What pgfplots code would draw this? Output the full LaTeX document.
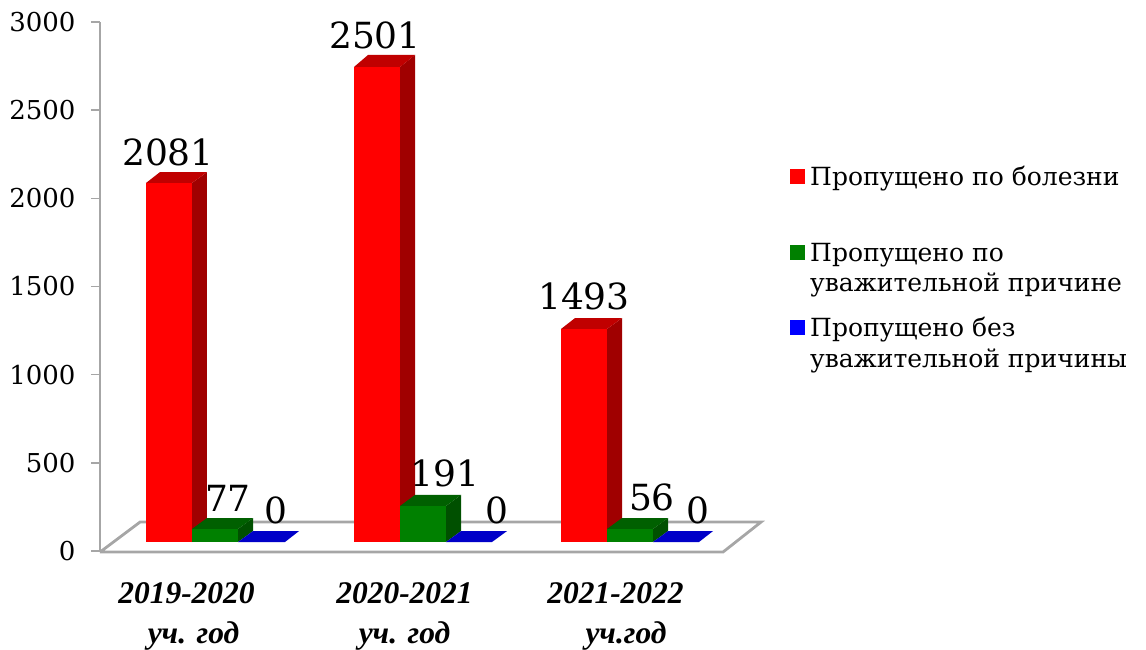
\documentclass[border=0pt]{standalone}
\usepackage{pgfplots}
\usepackage{pgfplotstable}
\usepackage{fontspec}
\pgfplotsset{compat=1.18}
\setmainfont{DejaVu Serif}
\newfontfamily\catfont{Liberation Serif}
\definecolor{axgray}{HTML}{A6A6A6}
\definecolor{rf}{HTML}{FF0000}
\definecolor{rt}{HTML}{C00000}
\definecolor{rs}{HTML}{A00000}
\definecolor{gf}{HTML}{008000}
\definecolor{gt}{HTML}{006000}
\definecolor{gs}{HTML}{005000}
\definecolor{bt}{HTML}{0000C8}
\definecolor{bl}{HTML}{0000FF}
\newcommand{\face}[2]{\addplot[fill=#1,draw=none,forget plot] coordinates {#2} --cycle;}
\pgfplotstableread[col sep=space]{
x y l
168 2263 2081
375 2926 2501
584 1446 1493
228 301 77
445 442 191
652 306 56
276 233 0
497 233 0
698 233 0
}\labels
\begin{document}
\begin{tikzpicture}[x=1pt,y=1pt]
\useasboundingbox (-100,-98) rectangle (1046,551);
\begin{axis}[
  scale only axis, width=1046pt, height=529pt, anchor=origin,
  at={(0,0)},
  xmin=100, xmax=1146, ymin=0, ymax=3000, clip=false,
  axis y line=left, axis x line*=bottom,
  x axis line style={draw=none},
  y axis line style={draw=axgray,line width=2.6pt,-},
  ytick={0,500,1000,1500,2000,2500,3000},
  yticklabel style={font=\fontsize{26}{26}\selectfont,/pgf/number format/assume math mode=true,/pgf/number format/1000 sep={},xshift=-12pt},
  y tick style={draw=axgray,line width=1.5pt},
  major tick length=9pt,
  tick align=outside,
  xtick={186.5,404.5,615.5},
  x tick style={draw=none},
  xticklabels={{2019-2020\\\hspace*{14pt}уч. год},{2020-2021\\уч. год},{2021-2022\\\hspace*{21pt}уч.год}},
  xticklabel style={align=center,font=\fontsize{31.5}{40}\catfont\bfseries\itshape\selectfont,yshift=-19pt},
]
% floor
\addplot[draw=axgray,line width=2.8pt,forget plot] coordinates {(100,-6) (723,-6) (761,164) (140,164) (100,-6)};
% first group
\face{rs}{(192,51) (207,113) (207,2149) (192,2087)}
\face{rt}{(146,2087) (160,2149) (207,2149) (192,2087)}
\face{rf}{(146,51) (192,51) (192,2087) (146,2087)}
\face{gs}{(238,51) (253,113) (253,187) (238,125)}
\face{gt}{(192,125) (207,187) (253,187) (238,125)}
\face{gf}{(192,51) (238,51) (238,125) (192,125)}
\face{bt}{(238,51) (285,51) (299,113) (253,113)}
% second group
\face{rs}{(400,51) (415,113) (415,2813) (400,2745)}
\face{rt}{(354,2745) (368,2813) (415,2813) (400,2745)}
\face{rf}{(354,51) (400,51) (400,2745) (354,2745)}
\face{gs}{(446,51) (461,113) (461,318) (446,255)}
\face{gt}{(400,255) (415,318) (461,318) (446,255)}
\face{gf}{(400,51) (446,51) (446,255) (400,255)}
\face{bt}{(446,51) (492,51) (507,113) (461,113)}
% third group
\face{rs}{(607,51) (622,113) (622,1321) (607,1259)}
\face{rt}{(561,1259) (575,1321) (622,1321) (607,1259)}
\face{rf}{(561,51) (607,51) (607,1259) (561,1259)}
\face{gs}{(653,51) (668,113) (668,187) (653,125)}
\face{gt}{(607,125) (622,187) (668,187) (653,125)}
\face{gf}{(607,51) (653,51) (653,125) (607,125)}
\face{bt}{(653,51) (699,51) (713,113) (668,113)}
% data labels
\addplot[draw=none,forget plot,nodes near coords,point meta=explicit symbolic,
  every node near coord/.append style={anchor=center,inner sep=0pt,font=\fontsize{36}{36}\selectfont}]
  table[x=x,y=y,meta=l] {\labels};
% legend
\addplot[only marks,mark=square*,mark size=7pt,mark options={draw=rf,fill=rf},forget plot] coordinates {(797,2127)};
\addplot[only marks,mark=square*,mark size=7pt,mark options={draw=gf,fill=gf},forget plot] coordinates {(797,1696)};
\addplot[only marks,mark=square*,mark size=7pt,mark options={draw=bl,fill=bl},forget plot] coordinates {(797,1270)};
\begin{scope}[every node/.style={anchor=base west,inner sep=0pt,font=\fontsize{25}{25}\selectfont}]
\node at (axis cs:810,2070) {Пропущено по болезни};
\node at (axis cs:810,1639) {Пропущено по};
\node at (axis cs:810,1469) {уважительной причине};
\node at (axis cs:810,1214) {Пропущено без};
\node at (axis cs:810,1043) {уважительной причины};
\end{scope}
\end{axis}
\end{tikzpicture}
\end{document}
